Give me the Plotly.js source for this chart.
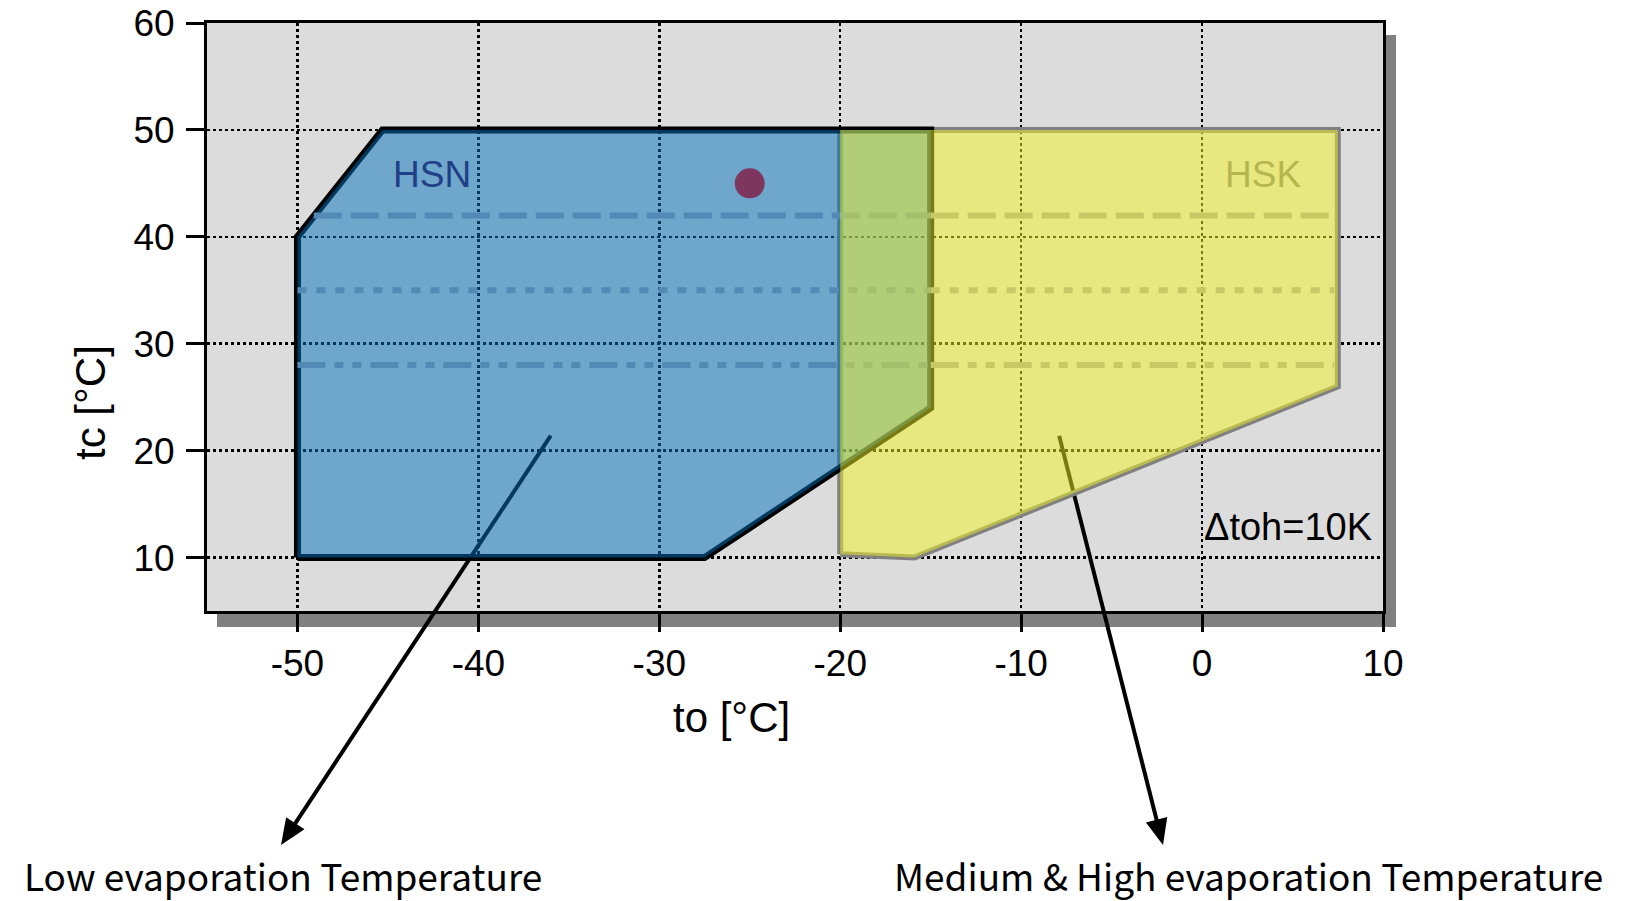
<!DOCTYPE html>
<html>
<head>
<meta charset="utf-8">
<script src="https://cdn.plot.ly/plotly-3.0.1.min.js"></script>
<style>
  html, body { margin: 0; padding: 0; background: #ffffff; }
  #chart { width: 1637px; height: 901px; }
</style>
</head>
<body>
<div id="chart"></div>
<script>
// ---------- data ----------
// HSN envelope (low evaporation temperature): to [°C], tc [°C]
const hsnTo = [-50, -50, -45.3, -15, -15, -27.5, -50];
const hsnTc = [10, 40, 50, 50, 24, 10, 10];
// HSK envelope (medium & high evaporation temperature)
const hskTo = [-20, -20, 7.5, 7.5, -15.9, -20];
const hskTc = [10.3, 50, 50, 26, 10, 10.3];
// horizontal reference lines inside the envelopes (tc levels)
const refTc = [42, 35, 28];
const hsnRefFrom = [-49.1, -50, -50];
const hsnRefTo = [-15, -15, -15];
const hskRefFrom = [-15, -15, -15];
const hskRefTo = [7.3, 7.3, 7.3];
// operating point
const pointTo = [-25];
const pointTc = [45];
// ticks
const xTicks = [-50, -40, -30, -20, -10, 0, 10];
const yTicks = [10, 20, 30, 40, 50, 60];
const xTickText = ['-50', '-40', '-30', '-20', '-10', '0', '10'];
const yTickText = ['10', '20', '30', '40', '50', '60'];
// texts
const hsnLabel = 'HSN';
const hskLabel = 'HSK';
const noteLabel = 'Δtoh=10K';
const xTitle = 'to [°C]';
const yTitle = 'tc [°C]';
const lowLabel = 'Low evaporation Temperature';
const medLabel = 'Medium & High evaporation Temperature';
// arrow tails (data coords)
const arrowTailTo = [-36, -7.9];
const arrowTailTc = [21.4, 21.4];

// ---------- layout geometry ----------
const W = 1637, H = 901;
const M = { l: 207, r: 254, t: 23, b: 290 };
const xRange = [-55, 10], yRange = [5, 60];
const pw = W - M.l - M.r, ph = H - M.t - M.b;
const pX = px => (px - M.l) / pw;
const pY = py => (H - M.b - py) / ph;
const dX = v => M.l + (v - xRange[0]) / (xRange[1] - xRange[0]) * pw;
const dY = v => H - M.b - (v - yRange[0]) / (yRange[1] - yRange[0]) * ph;
const arrowTipPx = [[281, 845], [1163, 845]];

const refDash = ['28px,9px', '9px,10px', '28px,9px,9px,9px,9px,9px'];
const FONT = 'Liberation Sans, Arial, sans-serif';
const CJK = 'Noto Sans CJK JP, Noto Sans, sans-serif';

const traces = [];
// HSK outline (grey)
traces.push({ x: hskTo, y: hskTc, mode: 'lines', line: { color: '#808080', width: 6 },
  hoverinfo: 'skip', showlegend: false });
// HSN outline (black)
traces.push({ x: hsnTo, y: hsnTc, mode: 'lines', line: { color: '#000000', width: 7 },
  hoverinfo: 'skip', showlegend: false });
// HSN fill
traces.push({ x: hsnTo, y: hsnTc, mode: 'lines', fill: 'toself',
  fillcolor: 'rgba(0,112,188,0.5)', line: { width: 0, color: 'rgba(0,0,0,0)' },
  hoverinfo: 'skip', showlegend: false });
// HSN reference lines
refTc.forEach((tc, i) => {
  traces.push({ x: [hsnRefFrom[i], hsnRefTo[i]], y: [tc, tc], mode: 'lines',
    line: { color: '#5389b5', width: 6, dash: refDash[i] }, hoverinfo: 'skip', showlegend: false });
});
// HSK fill
traces.push({ x: hskTo, y: hskTc, mode: 'lines', fill: 'toself',
  fillcolor: 'rgba(244,244,36,0.5)', line: { width: 0, color: 'rgba(0,0,0,0)' },
  hoverinfo: 'skip', showlegend: false });
// HSK reference lines
refTc.forEach((tc, i) => {
  traces.push({ x: [hskRefFrom[i], hskRefTo[i]], y: [tc, tc], mode: 'lines',
    line: { color: '#c8c864', width: 6, dash: refDash[i] }, hoverinfo: 'skip', showlegend: false });
});
// operating point
traces.push({ x: pointTo, y: pointTc, mode: 'markers',
  marker: { color: '#7f365e', size: 30, line: { width: 0 } }, hoverinfo: 'skip', showlegend: false });

// ---------- shapes ----------
const shapes = [
  // drop shadow of the plot frame
  { type: 'rect', xref: 'paper', yref: 'paper', x0: pX(217), x1: pX(1396), y0: pY(627), y1: pY(35),
    fillcolor: '#808080', line: { width: 0 }, layer: 'below' },
  // plot background
  { type: 'rect', xref: 'paper', yref: 'paper', x0: 0, x1: 1, y0: 0, y1: 1,
    fillcolor: '#dcdcdc', line: { width: 0 }, layer: 'below' }
];
const annotations = [];
for (let i = 0; i < arrowTailTo.length; i++) {
  const tx = dX(arrowTailTo[i]), ty = dY(arrowTailTc[i]);
  const hx = arrowTipPx[i][0], hy = arrowTipPx[i][1];
  const len = Math.hypot(hx - tx, hy - ty);
  const ux = (hx - tx) / len, uy = (hy - ty) / len;
  const L = 26, hw = 11;
  const bx = hx - ux * L, by = hy - uy * L;
  const nx = -uy, ny = ux;
  shapes.push({ type: 'line', xref: 'paper', yref: 'paper', x0: pX(tx), y0: pY(ty),
    x1: pX(bx + ux * 4), y1: pY(by + uy * 4), line: { color: '#000000', width: 4 }, layer: 'below' });
  shapes.push({ type: 'path', xref: 'paper', yref: 'paper',
    path: `M${pX(hx)},${pY(hy)} L${pX(bx + nx * hw)},${pY(by + ny * hw)} L${pX(bx - nx * hw)},${pY(by - ny * hw)} Z`,
    fillcolor: '#000000', line: { width: 0 }, layer: 'above' });
}

annotations.push({ xref: 'x', yref: 'y', x: -42.56, y: 45.8, text: hsnLabel, showarrow: false,
  font: { family: FONT, size: 37, color: '#213f86' }, xanchor: 'center', yanchor: 'middle' });
annotations.push({ xref: 'x', yref: 'y', x: 3.37, y: 45.8, text: hskLabel, showarrow: false,
  font: { family: FONT, size: 37, color: '#b6b64e' }, xanchor: 'center', yanchor: 'middle' });
annotations.push({ xref: 'x', yref: 'y', x: 9.5, y: 12.9, text: noteLabel, showarrow: false,
  font: { family: FONT, size: 38, color: '#000000' }, xanchor: 'right', yanchor: 'middle' });
annotations.push({ xref: 'paper', yref: 'paper', x: pX(731), y: pY(717), text: xTitle, showarrow: false,
  font: { family: FONT, size: 42, color: '#000000' }, xanchor: 'center', yanchor: 'middle' });
annotations.push({ xref: 'paper', yref: 'paper', x: pX(90), y: pY(403), text: yTitle, showarrow: false,
  textangle: -90, font: { family: FONT, size: 42, color: '#000000' }, xanchor: 'center', yanchor: 'middle' });
annotations.push({ xref: 'paper', yref: 'paper', x: pX(22), y: pY(875), text: lowLabel, showarrow: false,
  font: { family: CJK, size: 37, color: '#000000' }, xanchor: 'left', yanchor: 'middle' });
annotations.push({ xref: 'paper', yref: 'paper', x: pX(892), y: pY(875), text: medLabel, showarrow: false,
  font: { family: CJK, size: 37, color: '#000000' }, xanchor: 'left', yanchor: 'middle' });

const axisCommon = {
  ticks: 'outside', ticklen: 18, tickwidth: 3, tickcolor: '#000000',
  showline: true, linewidth: 3, linecolor: '#000000', mirror: true,
  showgrid: true, gridcolor: '#000000', gridwidth: 2.5, griddash: '3px,3px',
  zeroline: false, fixedrange: true,
  tickfont: { family: FONT, size: 37, color: '#000000' }
};

const layout = {
  width: W, height: H,
  margin: M,
  paper_bgcolor: '#ffffff',
  plot_bgcolor: 'rgba(0,0,0,0)',
  showlegend: false,
  xaxis: Object.assign({}, axisCommon, { range: xRange, tickmode: 'array', tickvals: xTicks, ticktext: xTickText, ticklabelstandoff: 0 }),
  yaxis: Object.assign({}, axisCommon, { range: yRange, tickmode: 'array', tickvals: yTicks, ticktext: yTickText, ticklabelstandoff: 4 }),
  shapes: shapes,
  annotations: annotations
};

Plotly.newPlot('chart', traces, layout, { displayModeBar: false, staticPlot: true });
</script>
</body>
</html>
